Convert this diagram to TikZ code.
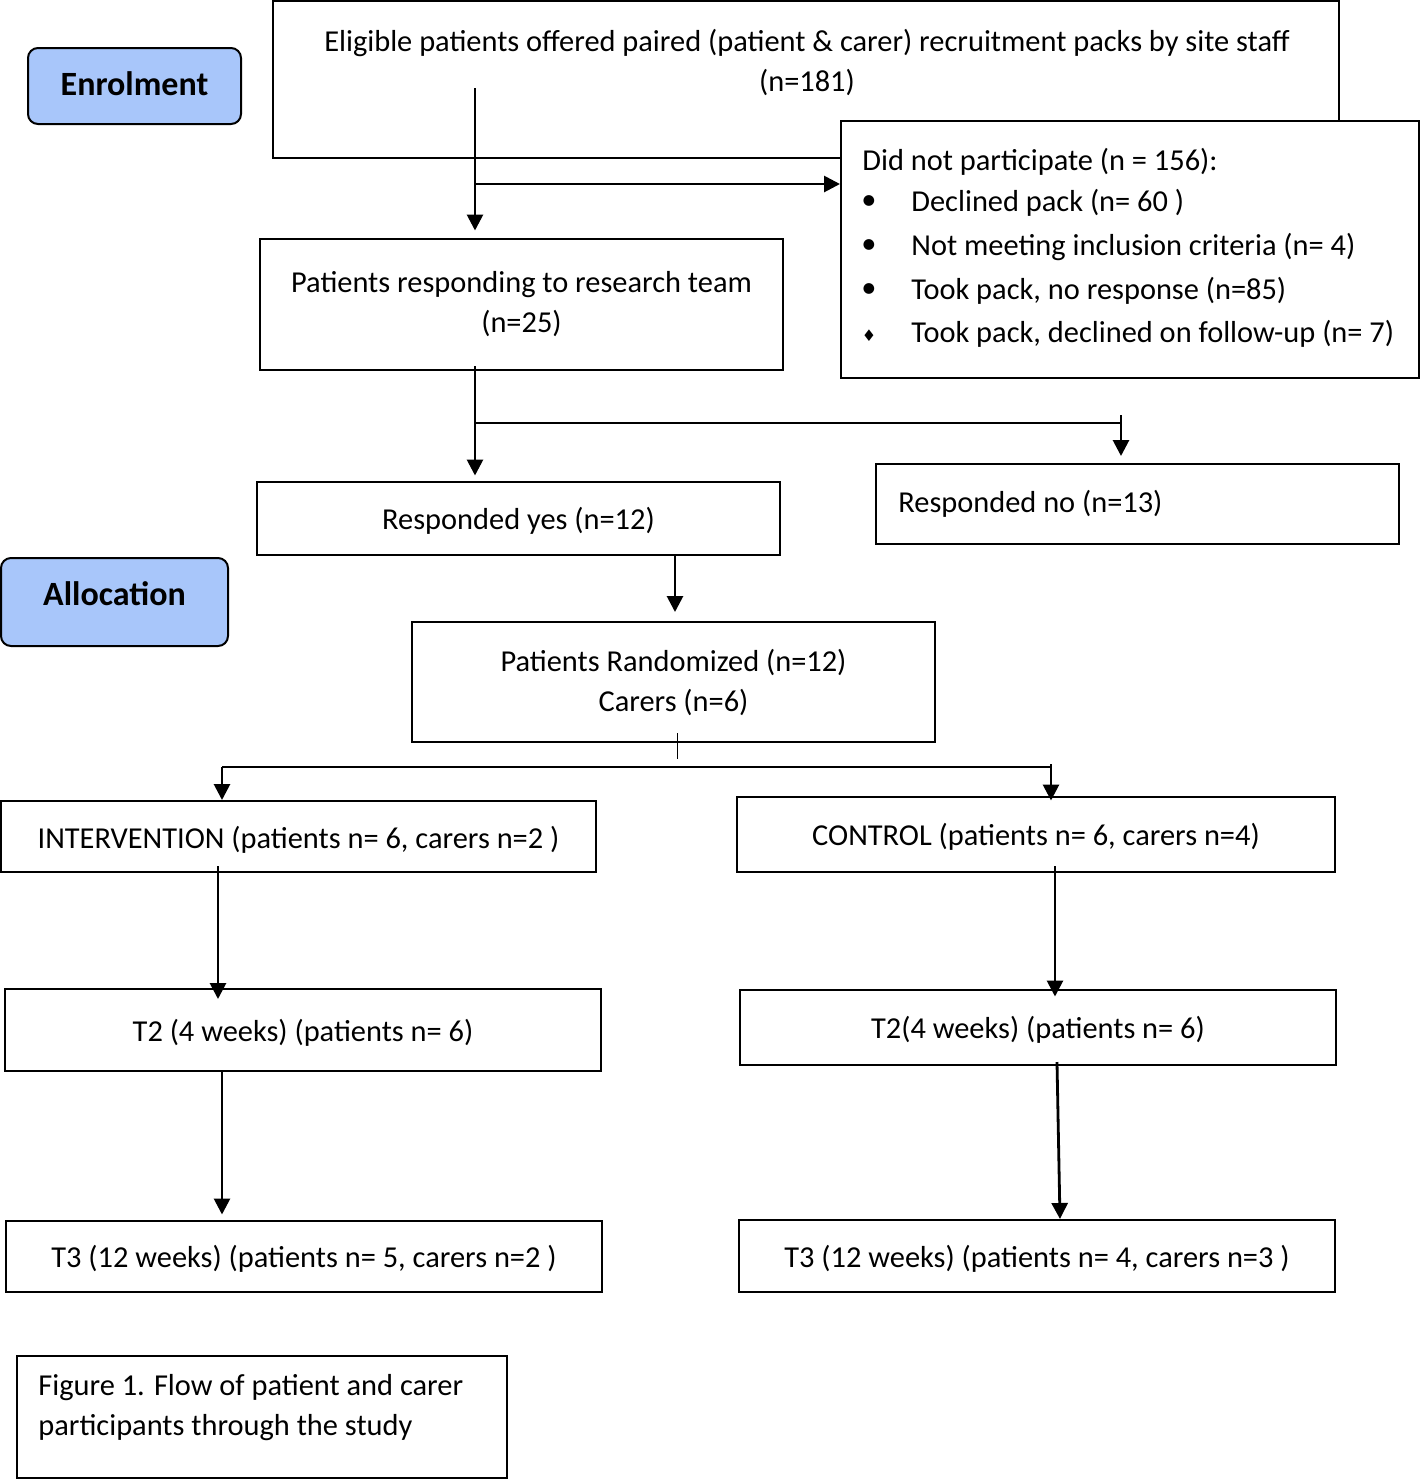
\documentclass[tikz,border=0pt]{standalone}
\usepackage{fontspec}
\setmainfont{Carlito}
\newfontfamily\symfont{DejaVu Sans}
\usetikzlibrary{arrows.meta,positioning}

\definecolor{labelblue}{RGB}{168,198,250}

\tikzset{
  box/.style 2 args={draw, line width=1pt, minimum width=#1*0.5pt, minimum height=#2*0.5pt, inner sep=0pt, align=center},
  oneline/.style={text height=15.5pt, text depth=4pt},
  stage/.style 2 args={draw, line width=1pt, fill=labelblue, rounded corners=5pt, minimum width=#1*0.5pt, minimum height=#2*0.5pt, font=\fontsize{17}{20}\selectfont\bfseries},
  txt/.style={inner sep=0pt, align=left},
  arr/.style={line width=1.4pt, -{Triangle[width=8pt,length=8pt]}},
  link/.style={line width=1.2pt}
}

\begin{document}
\begin{tikzpicture}[x=0.5pt, y=-0.5pt, font=\fontsize{15.2}{20}\selectfont]
 \useasboundingbox (0,0) rectangle (1420,1480);

 %stage labels
 \node[stage={213}{76}, text depth=2pt] (enrol) at (134.5,86) {Enrolment};
 \node[stage={227}{88}, text depth=8pt] (alloc) at (114.5,602) {Allocation};

 %enrolment
 \node[box={1066}{157}] (elig) at (806,79.5) {};
 \node[txt, align=center] (eligt) at (807,62) {Eligible patients offered paired (patient \& carer) recruitment packs by site staff\\(n=181)};

 \node[box={578}{257}, fill=white] (dnp) at (1130,249.5) {};
 \node[txt, anchor=west] (dnpt) at (862,162) {Did not participate (n = 156):};
 \foreach \y/\name/\lbl in {203/1/{Declined pack (n= 60 )}, 247/2/{Not meeting inclusion criteria (n= 4)}, 291/3/{Took pack, no response (n=85)}} {
   \node[txt] (bul\name) at (869,\y) {•};
   \node[txt, anchor=west] (dnp\name) at (911,\y) {\lbl};
 }
 \node[txt] (bul4) at (869,336) {\symfont\fontsize{8}{8}\selectfont ♦};
 \node[txt, anchor=west] (dnp4) at (911,334) {Took pack, declined on follow-up (n= 7)};

 \node[box={523}{131}] (resp) at (521.5,304) {Patients responding to research team\\(n=25)};
 \node[box={523}{73}, oneline] (yes) at (518.5,518) {Responded yes (n=12)};
 \node[box={523}{80}] (no) at (1137.5,504) {};
 \node[txt, anchor=west] (not) at (898,504) {Responded no (n=13)};

 %allocation
 \node[box={523}{120}] (rand) at (673.5,682) {Patients Randomized (n=12)\\Carers (n=6)};
 \node[box={595}{71}, oneline] (intv) at (298.5,836.5) {INTERVENTION (patients n= 6, carers n=2 )};
 \node[box={598}{75}, oneline] (ctrl) at (1036,834) {CONTROL (patients n= 6, carers n=4)};
 \node[box={596}{82}, oneline] (t2i) at (303,1030) {T2 (4 weeks) (patients n= 6)};
 \node[box={596}{75}, oneline] (t2c) at (1038,1027) {T2(4 weeks) (patients n= 6)};
 \node[box={596}{71}, oneline] (t3i) at (304,1256) {T3 (12 weeks) (patients n= 5, carers n=2 )};
 \node[box={596}{72}, oneline] (t3c) at (1037,1256) {T3 (12 weeks) (patients n= 4, carers n=3 )};

 %caption
 \node[box={490}{122}] (cap) at (262,1417) {};
 \node[txt, anchor=west] (capt) at (38,1408) {Figure 1. Flow of patient and carer\\participants through the study};

 %connectors
 \coordinate (s1) at (475,88);
 \coordinate (b1) at (475,184);
 \draw[arr, shorten >=3.5pt] (s1) -- (resp.north -| s1);
 \draw[arr] (b1) -- (dnp.west |- b1);

 \coordinate (s2) at (475,366);
 \coordinate (b2) at (475,423);
 \coordinate (c2) at (1121,423);
 \coordinate (c2t) at (1121,415);
 \draw[arr, shorten >=2.5pt] (s2) -- (yes.north -| s2);
 \draw[link] (b2) -- (c2);
 \draw[arr, shorten >=3.5pt] (c2t) -- (no.north -| c2t);

 \coordinate (s3) at (675,554);
 \draw[arr, shorten >=4.5pt] (s3) -- (rand.north -| s3);

 \coordinate (tk1) at (677,733);
 \coordinate (tk2) at (677,759);
 \draw[thin] (tk1) -- (tk2);
 \coordinate (l3) at (222,767);
 \coordinate (r3) at (1051,767);
 \coordinate (r3t) at (1051,764);
 \draw[link] (l3) -- (r3);
 \draw[arr] (l3) -- (intv.north -| l3);
 \draw[arr, shorten >=-2.5pt] (r3t) -- (ctrl.north -| r3t);

 \coordinate (s4) at (218,866);
 \coordinate (s5) at (1055,866);
 \draw[arr, shorten >=-5.5pt] (s4) -- (t2i.north -| s4);
 \draw[arr, shorten >=-4pt] (s5) -- (t2c.north -| s5);

 \coordinate (s6) at (222,1071);
 \coordinate (s7) at (1057,1062);
 \coordinate (e7) at (1060,1219);
 \draw[arr, shorten >=2.5pt] (s6) -- (t3i.north -| s6);
 \draw[arr] (s7) -- (t3c.north -| e7);

\end{tikzpicture}
\end{document}
